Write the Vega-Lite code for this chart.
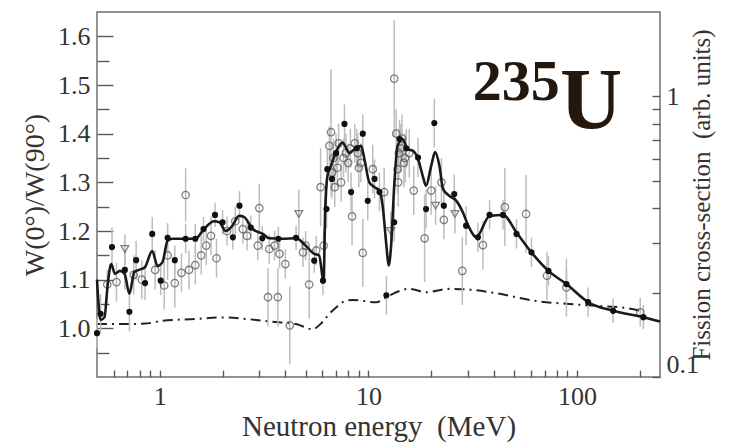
{
  "$schema": "https://vega.github.io/schema/vega-lite/v6.json",
  "width": 563,
  "height": 365,
  "autosize": "none",
  "padding": {"left": 97, "top": 12, "right": 81, "bottom": 66},
  "config": {
    "view": {"stroke": "#707070", "strokeWidth": 1.5},
    "font": "Liberation Serif",
    "axis": {"grid": false, "domain": false, "labelOverlap": false, "labelFont": "Liberation Serif", "titleFont": "Liberation Serif", "labelColor": "#333", "titleColor": "#333", "titleFontWeight": "normal", "tickColor": "#5a5a5a", "tickWidth": 1.4}
  },
  "datasets": {
    "pts": [
      {"E": 0.50, "R": 0.99, "err": 0.03, "kind": "f"},
      {"E": 0.52, "R": 1.03, "err": 0.04, "kind": "f"},
      {"E": 0.59, "R": 1.167, "err": 0.04, "kind": "f"},
      {"E": 0.68, "R": 1.12, "err": 0.04, "kind": "f"},
      {"E": 0.715, "R": 1.034, "err": 0.04, "kind": "f"},
      {"E": 0.77, "R": 1.14, "err": 0.04, "kind": "f"},
      {"E": 0.85, "R": 1.093, "err": 0.035, "kind": "f"},
      {"E": 0.92, "R": 1.194, "err": 0.035, "kind": "f"},
      {"E": 1.01, "R": 1.098, "err": 0.03, "kind": "f"},
      {"E": 1.09, "R": 1.186, "err": 0.03, "kind": "f"},
      {"E": 1.18, "R": 1.14, "err": 0.03, "kind": "f"},
      {"E": 1.33, "R": 1.184, "err": 0.03, "kind": "f"},
      {"E": 1.48, "R": 1.184, "err": 0.03, "kind": "f"},
      {"E": 1.62, "R": 1.204, "err": 0.025, "kind": "f"},
      {"E": 1.84, "R": 1.233, "err": 0.025, "kind": "f"},
      {"E": 2.0, "R": 1.218, "err": 0.025, "kind": "f"},
      {"E": 2.24, "R": 1.187, "err": 0.025, "kind": "f"},
      {"E": 2.41, "R": 1.252, "err": 0.03, "kind": "f"},
      {"E": 2.73, "R": 1.207, "err": 0.025, "kind": "f"},
      {"E": 3.1, "R": 1.185, "err": 0.025, "kind": "f"},
      {"E": 3.7, "R": 1.184, "err": 0.025, "kind": "f"},
      {"E": 4.5, "R": 1.186, "err": 0.025, "kind": "f"},
      {"E": 5.5, "R": 1.139, "err": 0.025, "kind": "f"},
      {"E": 6.06, "R": 1.098, "err": 0.03, "kind": "f"},
      {"E": 6.3, "R": 1.245, "err": 0.04, "kind": "f"},
      {"E": 6.35, "R": 1.327, "err": 0.04, "kind": "f"},
      {"E": 6.69, "R": 1.307, "err": 0.04, "kind": "f"},
      {"E": 7.0, "R": 1.36, "err": 0.04, "kind": "f"},
      {"E": 7.68, "R": 1.42, "err": 0.04, "kind": "f"},
      {"E": 8.26, "R": 1.28, "err": 0.04, "kind": "f"},
      {"E": 8.8, "R": 1.37, "err": 0.04, "kind": "f"},
      {"E": 9.4, "R": 1.40, "err": 0.04, "kind": "f"},
      {"E": 9.93, "R": 1.262, "err": 0.04, "kind": "f"},
      {"E": 10.7, "R": 1.307, "err": 0.04, "kind": "f"},
      {"E": 11.3, "R": 1.28, "err": 0.04, "kind": "f"},
      {"E": 12.2, "R": 1.068, "err": 0.04, "kind": "f"},
      {"E": 13.3, "R": 1.218, "err": 0.04, "kind": "f"},
      {"E": 14.1, "R": 1.389, "err": 0.04, "kind": "f"},
      {"E": 15.2, "R": 1.37, "err": 0.04, "kind": "f"},
      {"E": 17.3, "R": 1.351, "err": 0.04, "kind": "f"},
      {"E": 18.9, "R": 1.245, "err": 0.04, "kind": "f"},
      {"E": 20.7, "R": 1.422, "err": 0.05, "kind": "f"},
      {"E": 23.0, "R": 1.252, "err": 0.04, "kind": "f"},
      {"E": 25.8, "R": 1.276, "err": 0.04, "kind": "f"},
      {"E": 29.4, "R": 1.211, "err": 0.04, "kind": "f"},
      {"E": 33.5, "R": 1.187, "err": 0.03, "kind": "f"},
      {"E": 38.1, "R": 1.233, "err": 0.03, "kind": "f"},
      {"E": 44.2, "R": 1.233, "err": 0.03, "kind": "f"},
      {"E": 51.3, "R": 1.194, "err": 0.03, "kind": "f"},
      {"E": 60.5, "R": 1.156, "err": 0.03, "kind": "f"},
      {"E": 73, "R": 1.118, "err": 0.03, "kind": "f"},
      {"E": 89, "R": 1.091, "err": 0.03, "kind": "f"},
      {"E": 113, "R": 1.054, "err": 0.03, "kind": "f"},
      {"E": 149, "R": 1.036, "err": 0.025, "kind": "f"},
      {"E": 208, "R": 1.023, "err": 0.025, "kind": "f"},
      {"E": 0.56, "R": 1.09, "err": 0.03, "kind": "o"},
      {"E": 0.62, "R": 1.095, "err": 0.04, "kind": "o"},
      {"E": 0.75, "R": 1.11, "err": 0.04, "kind": "o"},
      {"E": 0.82, "R": 1.10, "err": 0.04, "kind": "o"},
      {"E": 0.95, "R": 1.12, "err": 0.04, "kind": "o"},
      {"E": 1.05, "R": 1.088, "err": 0.05, "kind": "o"},
      {"E": 1.09, "R": 1.15, "err": 0.05, "kind": "o"},
      {"E": 1.18, "R": 1.093, "err": 0.05, "kind": "o"},
      {"E": 1.27, "R": 1.114, "err": 0.04, "kind": "o"},
      {"E": 1.33, "R": 1.274, "err": 0.055, "kind": "o"},
      {"E": 1.38, "R": 1.12, "err": 0.04, "kind": "o"},
      {"E": 1.48, "R": 1.13, "err": 0.04, "kind": "o"},
      {"E": 1.58, "R": 1.15, "err": 0.04, "kind": "o"},
      {"E": 1.67, "R": 1.17, "err": 0.04, "kind": "o"},
      {"E": 1.76, "R": 1.19, "err": 0.04, "kind": "o"},
      {"E": 1.87, "R": 1.144, "err": 0.04, "kind": "o"},
      {"E": 2.1, "R": 1.2, "err": 0.03, "kind": "o"},
      {"E": 2.3, "R": 1.22, "err": 0.03, "kind": "o"},
      {"E": 2.5, "R": 1.204, "err": 0.03, "kind": "o"},
      {"E": 2.62, "R": 1.19, "err": 0.03, "kind": "o"},
      {"E": 2.95, "R": 1.17, "err": 0.03, "kind": "o"},
      {"E": 3.0, "R": 1.247, "err": 0.05, "kind": "o"},
      {"E": 3.3, "R": 1.064, "err": 0.06, "kind": "o"},
      {"E": 3.35, "R": 1.163, "err": 0.03, "kind": "o"},
      {"E": 3.55, "R": 1.17, "err": 0.03, "kind": "o"},
      {"E": 3.68, "R": 1.064, "err": 0.06, "kind": "o"},
      {"E": 3.75, "R": 1.153, "err": 0.03, "kind": "o"},
      {"E": 4.0, "R": 1.132, "err": 0.03, "kind": "o"},
      {"E": 4.2, "R": 1.006, "err": 0.08, "kind": "o"},
      {"E": 4.86, "R": 1.156, "err": 0.03, "kind": "o"},
      {"E": 5.0, "R": 1.17, "err": 0.03, "kind": "o"},
      {"E": 5.2, "R": 1.09, "err": 0.07, "kind": "o"},
      {"E": 5.62, "R": 1.16, "err": 0.03, "kind": "o"},
      {"E": 5.9, "R": 1.29, "err": 0.08, "kind": "o"},
      {"E": 6.1, "R": 1.17, "err": 0.03, "kind": "o"},
      {"E": 6.5, "R": 1.375, "err": 0.04, "kind": "o"},
      {"E": 6.62, "R": 1.403, "err": 0.13, "kind": "o"},
      {"E": 6.7, "R": 1.32, "err": 0.04, "kind": "o"},
      {"E": 6.8, "R": 1.35, "err": 0.04, "kind": "o"},
      {"E": 6.9, "R": 1.29, "err": 0.04, "kind": "o"},
      {"E": 7.1, "R": 1.33, "err": 0.04, "kind": "o"},
      {"E": 7.2, "R": 1.38, "err": 0.04, "kind": "o"},
      {"E": 7.4, "R": 1.30, "err": 0.04, "kind": "o"},
      {"E": 7.6, "R": 1.35, "err": 0.04, "kind": "o"},
      {"E": 7.8, "R": 1.36, "err": 0.04, "kind": "o"},
      {"E": 8.0, "R": 1.34, "err": 0.04, "kind": "o"},
      {"E": 8.2, "R": 1.37, "err": 0.04, "kind": "o"},
      {"E": 8.35, "R": 1.23, "err": 0.06, "kind": "o"},
      {"E": 8.6, "R": 1.38, "err": 0.04, "kind": "o"},
      {"E": 8.9, "R": 1.36, "err": 0.04, "kind": "o"},
      {"E": 9.0, "R": 1.33, "err": 0.04, "kind": "o"},
      {"E": 9.2, "R": 1.34, "err": 0.04, "kind": "o"},
      {"E": 9.4, "R": 1.155, "err": 0.07, "kind": "o"},
      {"E": 10.5, "R": 1.327, "err": 0.05, "kind": "o"},
      {"E": 11.9, "R": 1.28, "err": 0.05, "kind": "o"},
      {"E": 13.3, "R": 1.513, "err": 0.12, "kind": "o"},
      {"E": 13.6, "R": 1.40, "err": 0.05, "kind": "o"},
      {"E": 13.8, "R": 1.327, "err": 0.05, "kind": "o"},
      {"E": 13.9, "R": 1.30, "err": 0.05, "kind": "o"},
      {"E": 14.0, "R": 1.36, "err": 0.05, "kind": "o"},
      {"E": 14.3, "R": 1.37, "err": 0.05, "kind": "o"},
      {"E": 14.5, "R": 1.39, "err": 0.05, "kind": "o"},
      {"E": 14.8, "R": 1.34, "err": 0.05, "kind": "o"},
      {"E": 15.0, "R": 1.35, "err": 0.05, "kind": "o"},
      {"E": 15.7, "R": 1.36, "err": 0.05, "kind": "o"},
      {"E": 16.5, "R": 1.283, "err": 0.05, "kind": "o"},
      {"E": 18.6, "R": 1.185, "err": 0.09, "kind": "o"},
      {"E": 20.0, "R": 1.283, "err": 0.05, "kind": "o"},
      {"E": 22.4, "R": 1.30, "err": 0.05, "kind": "o"},
      {"E": 23.0, "R": 1.223, "err": 0.04, "kind": "o"},
      {"E": 28.2, "R": 1.118, "err": 0.07, "kind": "o"},
      {"E": 35.4, "R": 1.171, "err": 0.05, "kind": "o"},
      {"E": 45.1, "R": 1.249, "err": 0.08, "kind": "o"},
      {"E": 57, "R": 1.235, "err": 0.08, "kind": "o"},
      {"E": 71.8, "R": 1.108, "err": 0.05, "kind": "o"},
      {"E": 89, "R": 1.084, "err": 0.06, "kind": "o"},
      {"E": 201, "R": 1.033, "err": 0.03, "kind": "o"},
      {"E": 0.68, "R": 1.163, "err": 0.03, "kind": "t"},
      {"E": 4.64, "R": 1.235, "err": 0.05, "kind": "t"},
      {"E": 12.8, "R": 1.2, "err": 0.04, "kind": "t"},
      {"E": 21.0, "R": 1.252, "err": 0.04, "kind": "t"},
      {"E": 26.0, "R": 1.235, "err": 0.04, "kind": "t"}
    ],
    "curve": [
      {"E": 0.5, "R": 1.10}, {"E": 0.52, "R": 1.017}, {"E": 0.543, "R": 1.023}, {"E": 0.563, "R": 1.091},
      {"E": 0.585, "R": 1.132}, {"E": 0.61, "R": 1.112}, {"E": 0.643, "R": 1.118}, {"E": 0.678, "R": 1.112},
      {"E": 0.715, "R": 1.071}, {"E": 0.755, "R": 1.116}, {"E": 0.82, "R": 1.122}, {"E": 0.85, "R": 1.126},
      {"E": 0.92, "R": 1.159}, {"E": 0.975, "R": 1.128}, {"E": 1.03, "R": 1.136}, {"E": 1.09, "R": 1.18},
      {"E": 1.15, "R": 1.184}, {"E": 1.33, "R": 1.184}, {"E": 1.48, "R": 1.184}, {"E": 1.63, "R": 1.204},
      {"E": 1.82, "R": 1.22}, {"E": 1.93, "R": 1.218}, {"E": 2.07, "R": 1.2}, {"E": 2.22, "R": 1.21},
      {"E": 2.40, "R": 1.231}, {"E": 2.53, "R": 1.229}, {"E": 2.79, "R": 1.204}, {"E": 3.12, "R": 1.194},
      {"E": 3.34, "R": 1.185}, {"E": 3.88, "R": 1.184}, {"E": 4.5, "R": 1.185}, {"E": 5.0, "R": 1.17},
      {"E": 5.5, "R": 1.153}, {"E": 5.8, "R": 1.15}, {"E": 6.1, "R": 1.098}, {"E": 6.21, "R": 1.245},
      {"E": 6.37, "R": 1.314}, {"E": 6.62, "R": 1.334}, {"E": 6.99, "R": 1.362}, {"E": 7.52, "R": 1.382},
      {"E": 8.1, "R": 1.36}, {"E": 8.56, "R": 1.368}, {"E": 9.22, "R": 1.375}, {"E": 9.57, "R": 1.348},
      {"E": 10.1, "R": 1.30}, {"E": 10.7, "R": 1.29}, {"E": 11.3, "R": 1.283}, {"E": 11.7, "R": 1.252},
      {"E": 12.2, "R": 1.17}, {"E": 12.5, "R": 1.129}, {"E": 12.85, "R": 1.17}, {"E": 13.3, "R": 1.293},
      {"E": 13.8, "R": 1.375}, {"E": 14.6, "R": 1.389}, {"E": 15.4, "R": 1.368}, {"E": 16.3, "R": 1.365},
      {"E": 17.3, "R": 1.348}, {"E": 18.2, "R": 1.314}, {"E": 18.9, "R": 1.293}, {"E": 20.0, "R": 1.334},
      {"E": 20.9, "R": 1.362}, {"E": 21.9, "R": 1.334}, {"E": 22.8, "R": 1.286}, {"E": 24.5, "R": 1.272},
      {"E": 26.4, "R": 1.262}, {"E": 28.4, "R": 1.238}, {"E": 30.1, "R": 1.211}, {"E": 32.9, "R": 1.187},
      {"E": 38.1, "R": 1.231}, {"E": 44.2, "R": 1.233}, {"E": 51.3, "R": 1.197}, {"E": 60.5, "R": 1.156},
      {"E": 73, "R": 1.118}, {"E": 89, "R": 1.091}, {"E": 113, "R": 1.054}, {"E": 149, "R": 1.036},
      {"E": 208, "R": 1.023}, {"E": 250, "R": 1.014}
    ],
    "fission": [
      {"E": 0.5, "S": 0.1545}, {"E": 0.7, "S": 0.1545}, {"E": 0.85, "S": 0.155}, {"E": 1.03, "S": 0.1587},
      {"E": 1.48, "S": 0.161}, {"E": 2.0, "S": 0.1631}, {"E": 2.6, "S": 0.161}, {"E": 3.35, "S": 0.1578},
      {"E": 4.5, "S": 0.1545}, {"E": 5.4, "S": 0.148}, {"E": 6.0, "S": 0.1565}, {"E": 6.5, "S": 0.168},
      {"E": 7.0, "S": 0.177}, {"E": 7.5, "S": 0.1846}, {"E": 8.4, "S": 0.1883}, {"E": 10.9, "S": 0.1846},
      {"E": 12.2, "S": 0.1924}, {"E": 13.6, "S": 0.2005}, {"E": 15.7, "S": 0.2062}, {"E": 18.9, "S": 0.2005},
      {"E": 24.5, "S": 0.2062}, {"E": 31.7, "S": 0.2043}, {"E": 42.6, "S": 0.1979}, {"E": 61.7, "S": 0.1872},
      {"E": 89, "S": 0.1823}, {"E": 129, "S": 0.179}, {"E": 161, "S": 0.1772}, {"E": 201, "S": 0.1724}
    ]
  },
  "layer": [
    {
      "data": {"name": "fission"},
      "mark": {"type": "line", "color": "#222", "strokeWidth": 2, "strokeDash": [10, 5, 2, 5], "interpolate": "monotone"},
      "encoding": {
        "x": {
          "field": "E", "type": "quantitative",
          "scale": {"type": "log", "domain": [0.5, 250], "nice": false},
          "axis": {
            "title": "Neutron energy\u00a0\u00a0(MeV)",
            "values": [0.6, 0.7, 0.8, 0.9, 1, 2, 3, 4, 5, 6, 7, 8, 9, 10, 20, 30, 40, 50, 60, 70, 80, 90, 100, 200],
            "labelExpr": "(datum.value == 1 || datum.value == 10 || datum.value == 100) ? '' + datum.value : ''",
            "tickSize": {"condition": {"test": "datum.value > 1e9", "value": -7}, "value": -7},
            "labelFont": "Liberation Serif", "titleFont": "Liberation Serif",
            "labelFontSize": 26, "labelPadding": 13, "titleFontSize": 29, "titlePadding": 3
          }
        },
        "y": {
          "field": "S", "type": "quantitative",
          "scale": {"type": "log", "domain": [0.1, 2], "nice": false},
          "axis": {
            "orient": "right",
            "title": "Fission cross-section\u00a0\u00a0(arb. units)",
            "values": [0.1, 0.2, 0.3, 0.4, 0.5, 0.6, 0.7, 0.8, 0.9, 1],
            "labelExpr": "datum.value == 1 ? '1' : (datum.value == 0.1 ? '0.1' : '')",
            "tickSize": {"condition": {"test": "datum.value > 1e9", "value": -8}, "value": -8},
            "labelFont": "Liberation Serif", "titleFont": "Liberation Serif",
            "labelFontSize": 26, "labelPadding": 14, "labelFlush": true,
            "titleFontSize": 25, "titleAngle": 270, "titlePadding": 16
          }
        }
      }
    },
    {
      "layer": [
        {
          "data": {"name": "pts"},
          "mark": {"type": "errorbar", "color": "#bdbdbd", "thickness": 1.5},
          "encoding": {
            "x": {"field": "E", "type": "quantitative"},
            "y": {
              "field": "R", "type": "quantitative",
              "scale": {"domain": [0.9, 1.65], "nice": false, "zero": false},
              "axis": {
                "orient": "left",
                "title": "W(0°)/W(90°)",
                "values": [1.0, 1.1, 1.2, 1.3, 1.4, 1.5, 1.6],
                "format": ".1f",
                "tickSize": {"condition": {"test": "datum.value > 1e9", "value": -16}, "value": -16},
                "labelFont": "Liberation Serif", "titleFont": "Liberation Serif",
                "labelFontSize": 26, "labelPadding": 23, "titleFontSize": 28, "titlePadding": 8
              }
            },
            "yError": {"field": "err"}
          }
        },
        {
          "data": {"name": "pts"},
          "transform": [{"filter": "datum.kind == 'o'"}],
          "mark": {"type": "point", "shape": "circle", "filled": false, "stroke": "#505050", "strokeWidth": 1.3, "size": 55},
          "encoding": {
            "x": {"field": "E", "type": "quantitative"},
            "y": {"field": "R", "type": "quantitative"}
          }
        },
        {
          "data": {"name": "pts"},
          "transform": [{"filter": "datum.kind == 't'"}],
          "mark": {"type": "point", "shape": "triangle-down", "filled": false, "stroke": "#505050", "strokeWidth": 1.3, "size": 60},
          "encoding": {
            "x": {"field": "E", "type": "quantitative"},
            "y": {"field": "R", "type": "quantitative"}
          }
        },
        {
          "data": {"name": "curve"},
          "mark": {"type": "line", "color": "#1a1a1a", "strokeWidth": 2.6, "interpolate": "monotone"},
          "encoding": {
            "x": {"field": "E", "type": "quantitative"},
            "y": {"field": "R", "type": "quantitative"}
          }
        },
        {
          "data": {"name": "pts"},
          "transform": [{"filter": "datum.kind == 'f'"}],
          "mark": {"type": "point", "shape": "circle", "filled": true, "color": "#111", "opacity": 1, "size": 38},
          "encoding": {
            "x": {"field": "E", "type": "quantitative"},
            "y": {"field": "R", "type": "quantitative"}
          }
        },
        {
          "data": {"values": [{"E": 82.8, "R": 1.4116, "t": "U"}]},
          "mark": {"type": "text", "font": "Liberation Serif", "fontWeight": "bold", "fontSize": 86, "align": "left", "baseline": "alphabetic", "color": "#24180e"},
          "encoding": {
            "x": {"field": "E", "type": "quantitative"},
            "y": {"field": "R", "type": "quantitative"},
            "text": {"field": "t"}
          }
        }
      ]
    },
    {
      "data": {"values": [{"E": 31.6, "R": 1.469, "t": "235"}]},
      "mark": {"type": "text", "font": "Liberation Serif", "fontWeight": "bold", "fontSize": 58, "align": "left", "baseline": "alphabetic", "color": "#24180e"},
      "encoding": {
        "x": {"field": "E", "type": "quantitative"},
        "y": {
          "field": "R", "type": "quantitative",
          "scale": {"domain": [0.9, 1.65], "nice": false, "zero": false},
          "axis": {
            "orient": "left",
            "title": null,
            "values": [0.95, 1.05, 1.15, 1.25, 1.35, 1.45, 1.55],
            "labels": false,
            "tickSize": {"condition": {"test": "datum.value > 1e9", "value": -12}, "value": -12}
          }
        },
        "text": {"field": "t"}
      }
    }
  ],
  "resolve": {"scale": {"y": "independent"}}
}
